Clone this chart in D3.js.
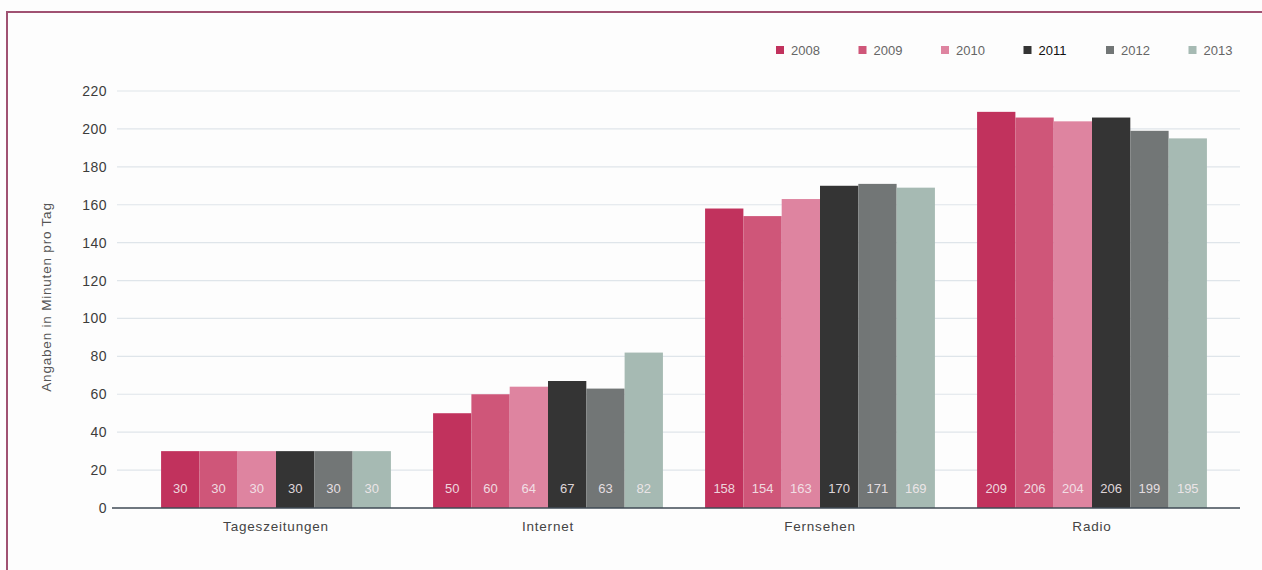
<!DOCTYPE html>
<html>
<head>
<meta charset="utf-8">
<script src="https://cdn.jsdelivr.net/npm/d3@7"></script>
<style>
  html, body { margin: 0; padding: 0; background: #fdfdfd; }
  svg { display: block; font-family: "Liberation Sans", Arial, sans-serif; }
</style>
</head>
<body>
<svg id="chart" width="1262" height="570"></svg>
<script>
// Mediennutzung: Minuten pro Tag nach Medium und Jahr
const categories = ["Tageszeitungen", "Internet", "Fernsehen", "Radio"];
const years = ["2008", "2009", "2010", "2011", "2012", "2013"];
const values2008 = [30, 50, 158, 209];
const values2009 = [30, 60, 154, 206];
const values2010 = [30, 64, 163, 204];
const values2011 = [30, 67, 170, 206];
const values2012 = [30, 63, 171, 199];
const values2013 = [30, 82, 169, 195];
const yTicks = [0, 20, 40, 60, 80, 100, 120, 140, 160, 180, 200, 220];
const yTitle = "Angaben in Minuten pro Tag";

const seriesValues = [values2008, values2009, values2010, values2011, values2012, values2013];
const colors = ["#c1325d", "#cf5679", "#de84a0", "#343434", "#727676", "#a6bab3"];

const svg = d3.select("#chart");

// frame
svg.append("path")
  .attr("d", "M7,570 L7,12 L1262,12")
  .attr("fill", "none")
  .attr("stroke", "#a05272")
  .attr("stroke-width", 2);

const y = d3.scaleLinear().domain([0, 220]).range([508, 91]);
const x0 = d3.scaleBand().domain(categories).range([140, 1228])
  .paddingInner(0.155).paddingOuter(0.0775);
const x1 = d3.scaleBand().domain(years).range([0, x0.bandwidth()]);
const color = d3.scaleOrdinal().domain(years).range(colors);

const gridLeft = 117, gridRight = 1240;

// gridlines
const grid = svg.append("g");
grid.selectAll("line")
  .data(yTicks.filter(t => t > 0))
  .join("line")
  .attr("x1", gridLeft).attr("x2", gridRight)
  .attr("y1", d => y(d)).attr("y2", d => y(d))
  .attr("stroke", "#dfe5ea")
  .attr("stroke-width", 1.2);

// y axis labels
const yAxis = d3.axisLeft(y).tickValues(yTicks).tickSize(0).tickPadding(10);
const gy = svg.append("g").attr("transform", `translate(${gridLeft},0)`).call(yAxis);
gy.select(".domain").remove();
gy.selectAll("text")
  .attr("font-size", 14)
  .attr("letter-spacing", 0.5)
  .attr("fill", "#3c3c3c")
  .attr("font-family", "'Liberation Sans', Arial, sans-serif");

// y title
svg.append("text")
  .attr("transform", `translate(51,297) rotate(-90)`)
  .attr("text-anchor", "middle")
  .attr("font-size", 13.5)
  .attr("letter-spacing", 0.8)
  .attr("fill", "#555")
  .text(yTitle);

// bars
const rows = categories.map((c, i) => ({
  category: c,
  items: years.map((yr, j) => ({ year: yr, value: seriesValues[j][i] }))
}));

const groups = svg.append("g").selectAll("g")
  .data(rows)
  .join("g")
  .attr("transform", d => `translate(${x0(d.category)},0)`);

groups.selectAll("rect")
  .data(d => d.items)
  .join("rect")
  .attr("x", d => x1(d.year))
  .attr("width", x1.bandwidth())
  .attr("y", d => y(d.value))
  .attr("height", d => y(0) - y(d.value))
  .attr("fill", d => color(d.year));

groups.selectAll("text.val")
  .data(d => d.items)
  .join("text")
  .attr("class", "val")
  .attr("x", d => x1(d.year) + x1.bandwidth() / 2)
  .attr("y", y(0) - 15)
  .attr("text-anchor", "middle")
  .attr("font-size", 13)
  .attr("fill", "#f4eaee")
  .attr("fill-opacity", 0.9)
  .text(d => d.value);

// baseline
svg.append("line")
  .attr("x1", 112).attr("x2", gridRight)
  .attr("y1", y(0)).attr("y2", y(0))
  .attr("stroke", "#3f4a55")
  .attr("stroke-width", 1.5);

// category labels
const xAxis = d3.axisBottom(x0).tickSize(0).tickPadding(13);
const gx = svg.append("g").attr("transform", `translate(0,${y(0)})`).call(xAxis);
gx.select(".domain").remove();
gx.selectAll("text")
  .attr("font-size", 13.5)
  .attr("letter-spacing", 0.8)
  .attr("fill", "#444")
  .attr("font-family", "'Liberation Sans', Arial, sans-serif");

// legend
const legend = svg.append("g").attr("transform", "translate(776,50)");
const li = legend.selectAll("g")
  .data(years)
  .join("g")
  .attr("transform", (d, i) => `translate(${i * 82.5},0)`);
li.append("rect")
  .attr("x", 0).attr("y", -4)
  .attr("width", 8).attr("height", 8)
  .attr("fill", d => color(d));
li.append("text")
  .attr("x", 15).attr("y", 5)
  .attr("font-size", 13)
  .attr("fill", d => d === "2011" ? "#111" : "#666")
  .text(d => d);
</script>
</body>
</html>
